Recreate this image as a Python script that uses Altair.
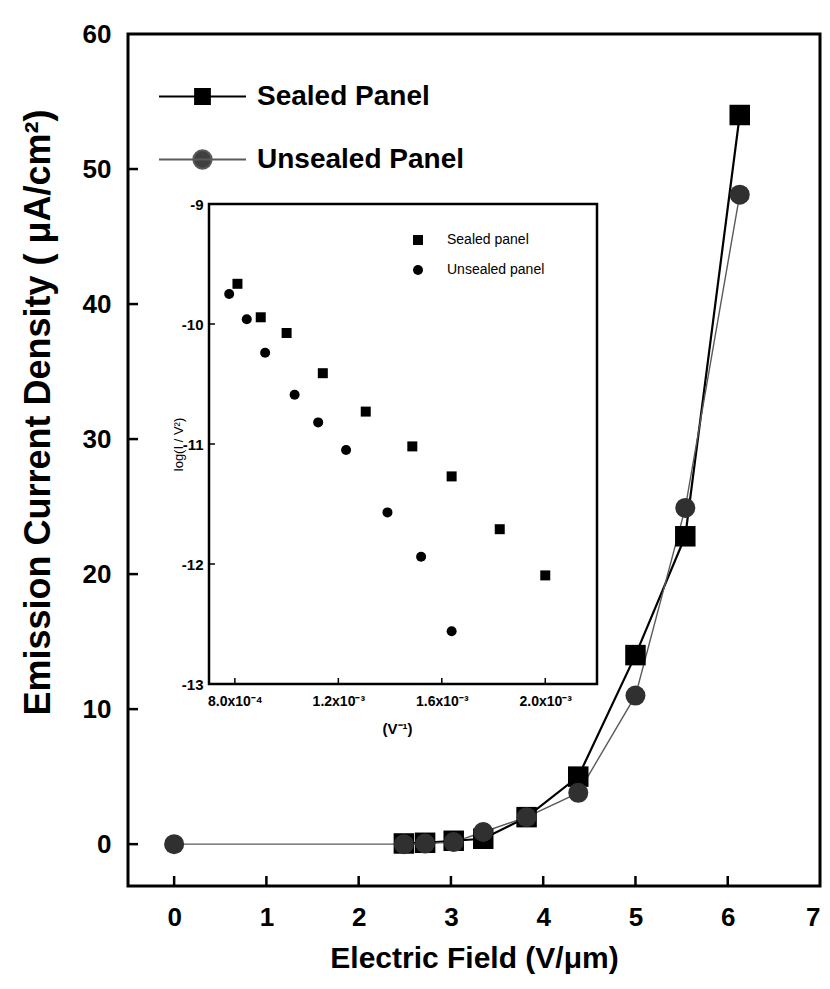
import altair as alt
import pandas as pd

# ---------------- data ----------------
SERIES = ["Sealed Panel", "Unsealed Panel"]
SEALED_X = [2.49, 2.72, 3.03, 3.35, 3.82, 4.38, 5.00, 5.54, 6.13]
SEALED_Y = [0.05, 0.10, 0.25, 0.40, 2.0, 5.0, 14.0, 22.8, 54.0]
UNSEALED_X = [0.0, 2.49, 2.72, 3.03, 3.35, 3.82, 4.38, 5.00, 5.54, 6.13]
UNSEALED_Y = [0.0, 0.0, 0.05, 0.15, 0.9, 2.0, 3.8, 11.0, 24.9, 48.1]

INSET_SERIES = ["Sealed panel", "Unsealed panel"]
INSET_SEALED_X = [8.1e-4, 9.0e-4, 1.0e-3, 1.14e-3, 1.306e-3, 1.486e-3, 1.638e-3, 1.824e-3, 2.0e-3]
INSET_SEALED_Y = [-9.665, -9.944, -10.075, -10.41, -10.73, -11.02, -11.27, -11.71, -12.095]
INSET_UNSEALED_X = [7.78e-4, 8.46e-4, 9.17e-4, 1.031e-3, 1.122e-3, 1.23e-3, 1.39e-3, 1.52e-3, 1.638e-3]
INSET_UNSEALED_Y = [-9.75, -9.96, -10.24, -10.59, -10.82, -11.05, -11.57, -11.94, -12.56]

MAIN_X_TICKS = [0, 1, 2, 3, 4, 5, 6, 7]
MAIN_Y_TICKS = [0, 10, 20, 30, 40, 50, 60]
MAIN_X_DOMAIN = [-0.5, 7.0]
MAIN_Y_DOMAIN = [-3.1, 60.0]

INSET_X_TICKS = [8.0e-4, 1.2e-3, 1.6e-3, 2.0e-3]
INSET_X_LABELS = ["8.0x10⁻⁴", "1.2x10⁻³", "1.6x10⁻³", "2.0x10⁻³"]
INSET_Y_TICKS = [-13, -12, -11, -10, -9]
INSET_Y_LABELS = ["-13", "-12", "-11", "-10", "-9"]
INSET_X_DOMAIN = [7.0e-4, 2.2e-3]
INSET_Y_DOMAIN = [-13.0, -9.0]

# ---------------- layout ----------------
W, H = 692, 852
FONT = "Liberation Sans"
INSET_XR = [81, 469]      # pixel range of the inset inside the plot
INSET_YR = [650, 170]

main_df = pd.DataFrame({
    "x": SEALED_X + UNSEALED_X,
    "y": SEALED_Y + UNSEALED_Y,
    "series": [SERIES[0]] * len(SEALED_X) + [SERIES[1]] * len(UNSEALED_X),
})
inset_df = pd.DataFrame({
    "x": INSET_SEALED_X + INSET_UNSEALED_X,
    "y": INSET_SEALED_Y + INSET_UNSEALED_Y,
    "series": [INSET_SERIES[0]] * len(INSET_SEALED_X) + [INSET_SERIES[1]] * len(INSET_UNSEALED_X),
})

mx = alt.Scale(domain=MAIN_X_DOMAIN, nice=False, zero=False)
my = alt.Scale(domain=MAIN_Y_DOMAIN, nice=False, zero=False)
ix = alt.Scale(domain=INSET_X_DOMAIN, range=INSET_XR, nice=False, zero=False)
iy = alt.Scale(domain=INSET_Y_DOMAIN, range=INSET_YR, nice=False, zero=False)

x_axis = alt.Axis(values=MAIN_X_TICKS, format="d", ticks=False, domain=False, grid=False,
                  labelFont=FONT, labelFontSize=26, labelFontWeight="bold", labelPadding=18,
                  labelColor="black", title="Electric Field (V/μm)", titleFont=FONT,
                  titleFontSize=30, titleFontWeight="bold", titleColor="black",
                  titleY=72, titleBaseline="middle")
y_axis = alt.Axis(values=MAIN_Y_TICKS, format="d", ticks=False, domain=False, grid=False,
                  labelFont=FONT, labelFontSize=26, labelFontWeight="bold", labelPadding=17,
                  labelColor="black", title="Emission Current Density (  μA/cm²)", titleFont=FONT,
                  titleFontSize=36, titleFontWeight="bold", titleColor="black",
                  titleX=-90, titleY=378, titleAngle=270, titleBaseline="middle", titleAlign="center")

lines = alt.Chart(main_df).mark_line().encode(
    x=alt.X("x:Q", scale=mx, axis=x_axis),
    y=alt.Y("y:Q", scale=my, axis=y_axis),
    color=alt.Color("series:N", scale=alt.Scale(domain=SERIES, range=["black", "#5a5a5a"]), legend=None),
    strokeWidth=alt.StrokeWidth("series:N", scale=alt.Scale(domain=SERIES, range=[2.2, 1.4]), legend=None),
)
sq = alt.Chart(main_df).transform_filter(alt.datum.series == SERIES[0]).mark_point(
    shape="square", filled=True, size=420, color="black", opacity=1).encode(
    x=alt.X("x:Q", scale=mx, axis=None), y=alt.Y("y:Q", scale=my, axis=None))
ci = alt.Chart(main_df).transform_filter(alt.datum.series == SERIES[1]).mark_point(
    shape="circle", filled=True, size=400, color="#303030", opacity=1).encode(
    x=alt.X("x:Q", scale=mx, axis=None), y=alt.Y("y:Q", scale=my, axis=None))

LEG_SHAPES = [
    "M-1,0H1M-0.17,-0.17H0.17V0.17H-0.17Z",
    "M-1,0H1M-0.21,0A0.21,0.21,0,1,0,0.21,0A0.21,0.21,0,1,0,-0.21,0Z",
]
leg = alt.Legend(orient="none", legendX=30, legendY=18, title=None, padding=0,
                 labelFont=FONT, labelFontSize=28, labelFontWeight="bold", labelColor="black",
                 labelLimit=600, symbolSize=7569, symbolStrokeWidth=2, symbolOpacity=1,
                 labelOffset=10, rowPadding=4)
legend_layer = alt.Chart(main_df).mark_point(filled=True, opacity=0, strokeWidth=2).encode(
    x=alt.X("x:Q", scale=mx, axis=None), y=alt.Y("y:Q", scale=my, axis=None),
    shape=alt.Shape("series:N", scale=alt.Scale(domain=SERIES, range=LEG_SHAPES), legend=leg),
    fill=alt.Fill("series:N", scale=alt.Scale(domain=SERIES, range=["black", "#404040"]), legend=leg),
    stroke=alt.Stroke("series:N", scale=alt.Scale(domain=SERIES, range=["black", "#5a5a5a"]), legend=leg),
)

xt_df = pd.DataFrame({"v": MAIN_X_TICKS[:-1]})
yt_df = pd.DataFrame({"v": MAIN_Y_TICKS[:-1]})
x_ticks = alt.Chart(xt_df).mark_rule(color="black", strokeWidth=2.5).encode(
    x=alt.X("v:Q", scale=mx, axis=None), y=alt.value(H), y2=alt.value(H - 10))
y_ticks = alt.Chart(yt_df).mark_rule(color="black", strokeWidth=2.5).encode(
    y=alt.Y("v:Q", scale=my, axis=None), x=alt.value(0), x2=alt.value(10))

# ---------------- inset ----------------
label_expr = "[" + ",".join(f"'{l}'" for l in INSET_X_LABELS) + "][round((datum.value - 0.0008) / 0.0004)]"
ylabel_expr = "[" + ",".join(f"'{l}'" for l in INSET_Y_LABELS) + "][round(datum.value + 13)]"

ix_axis = alt.Axis(orient="bottom", offset=-202, values=INSET_X_TICKS, labelExpr=label_expr,
                   ticks=False, domain=False, grid=False,
                   labelFont=FONT, labelFontSize=14, labelFontWeight="bold", labelColor="black",
                   labelPadding=10, title="(V⁻¹)", titleFont=FONT, titleFontSize=15,
                   titleFontWeight="bold", titleColor="black", titleX=269, titleY=44,
                   titleBaseline="middle")
iy_axis = alt.Axis(orient="left", offset=-81, values=INSET_Y_TICKS, labelExpr=ylabel_expr,
                   ticks=False, domain=False, grid=False,
                   labelFont=FONT, labelFontSize=15, labelFontWeight="bold", labelColor="black",
                   labelPadding=6, title="log(I / V²)", titleFont=FONT, titleFontSize=13,
                   titleFontWeight="normal", titleColor="black", titleX=-31, titleY=410,
                   titleAngle=270, titleBaseline="middle", titleAlign="center")

frame_df = pd.DataFrame({"x": [INSET_X_DOMAIN[0]], "x2": [INSET_X_DOMAIN[1]],
                         "y": [INSET_Y_DOMAIN[0]], "y2": [INSET_Y_DOMAIN[1]]})
frame = alt.Chart(frame_df).mark_rect(fill="white", stroke="black", strokeWidth=2.5).encode(
    x=alt.X("x:Q", scale=ix, axis=ix_axis), x2="x2:Q",
    y=alt.Y("y:Q", scale=iy, axis=iy_axis), y2="y2:Q")

ileg = alt.Legend(orient="none", legendX=283, legendY=199, title=None, padding=0,
                  labelFont=FONT, labelFontSize=14, labelColor="black", symbolSize=100,
                  symbolFillColor="black", symbolStrokeColor="black", symbolStrokeWidth=0,
                  labelLimit=300, labelOffset=22, rowPadding=16)
ipts = alt.Chart(inset_df).mark_point(filled=True, size=100, color="black", opacity=1).encode(
    x=alt.X("x:Q", scale=ix, axis=None), y=alt.Y("y:Q", scale=iy, axis=None),
    shape=alt.Shape("series:N", scale=alt.Scale(domain=INSET_SERIES, range=["square", "circle"]),
                    legend=ileg),
)

ixt_df = pd.DataFrame({"v": INSET_X_TICKS})
iyt_df = pd.DataFrame({"v": INSET_Y_TICKS[1:-1]})
ix_ticks = alt.Chart(ixt_df).mark_rule(color="black", strokeWidth=1.5).encode(
    x=alt.X("v:Q", scale=ix, axis=None), y=alt.value(INSET_YR[0]), y2=alt.value(INSET_YR[0] - 6))
iy_ticks = alt.Chart(iyt_df).mark_rule(color="black", strokeWidth=1.5).encode(
    y=alt.Y("v:Q", scale=iy, axis=None), x=alt.value(INSET_XR[0]), x2=alt.value(INSET_XR[0] + 6))

chart = alt.layer(
    lines, sq, ci, legend_layer, x_ticks, y_ticks, frame, ix_ticks, iy_ticks, ipts
).resolve_scale(
    x="independent", y="independent", shape="independent",
    fill="independent", stroke="independent", color="independent", strokeWidth="independent"
).resolve_axis(x="independent", y="independent").resolve_legend(
    shape="independent", fill="independent", stroke="independent"
).properties(
    width=W, height=H,
    padding={"left": 120, "top": 26, "right": 2, "bottom": 95},
    autosize=alt.AutoSizeParams(type="none"),
).configure(background="white").configure_view(stroke="black", strokeWidth=3)

chart.save("out.html", embed_options={"renderer": "svg", "actions": False})
